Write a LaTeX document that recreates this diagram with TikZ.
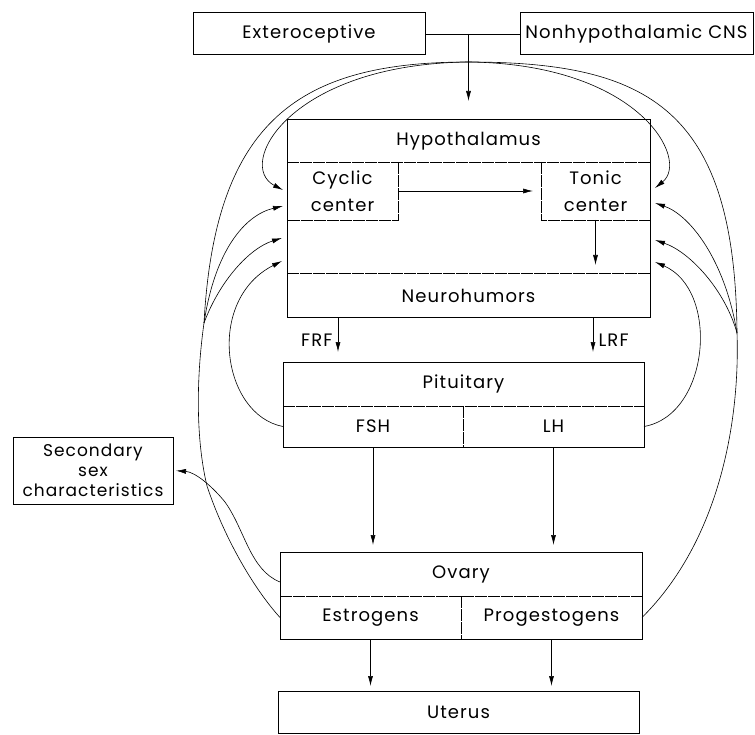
\documentclass[tikz,border=0pt]{standalone}
\usepackage{fontspec}
\setmainfont[LetterSpace=6]{Poppins}
\usetikzlibrary{shapes,arrows.meta,positioning,calc}

\begin{document}
\begin{tikzpicture}[x=1pt, y=-1pt, >={Latex[length=10pt,width=5pt]}, font=\fontsize{18}{20}\selectfont]
    \tikzstyle{frame} = [draw, line width=1pt, rectangle, inner sep=0pt, outer sep=0pt, align=center]
    \tikzstyle{part} = [rectangle, inner sep=0pt, outer sep=0pt, align=center]
    \tikzstyle{divider} = [line width=0.5pt, dash pattern=on 12pt off 1pt]
    \tikzstyle{feed} = [->, line width=0.6pt]
    \tikzstyle{link} = [line width=0.6pt]

    \useasboundingbox (0,0) rectangle (755,735);

    % Nodes
    \node [frame, minimum width=232pt, minimum height=42pt] (extero) at (309,34) {Exteroceptive};
    \node [frame, minimum width=233pt, minimum height=42pt] (cns) at (636.5,34) {Nonhypothalamic CNS};

    \node [frame, minimum width=363pt, minimum height=198pt] (hypo) at (468.5,219) {};
    \node [part, minimum width=363pt, minimum height=42pt, below right=0pt and 0pt of hypo.north west] (hyptitle) {Hypothalamus};
    \node [part, minimum width=111pt, minimum height=58pt, below right=0pt and 0pt of hyptitle.south west, font=\fontsize{18}{27}\selectfont] (cyclic) {Cyclic\\center};
    \node [part, minimum width=109pt, minimum height=58pt, below left=0pt and 0pt of hyptitle.south east, font=\fontsize{18}{27}\selectfont] (tonic) {Tonic\\center};
    \node [part, minimum width=363pt, minimum height=45pt, above right=0pt and 0pt of hypo.south west] (neuro) {Neurohumors};

    \node [frame, minimum width=361pt, minimum height=85pt, below=44pt of hypo, xshift=-5pt] (pit) {};
    \node [part, minimum width=361pt, minimum height=44pt, below right=0pt and 0pt of pit.north west] (pittitle) {Pituitary};
    \node [part, minimum width=180pt, minimum height=41pt, above right=0pt and 0pt of pit.south west] (fsh) {FSH};
    \node [part, minimum width=181pt, minimum height=41pt, above left=0pt and 0pt of pit.south east] (lh) {LH};

    \node [frame, minimum width=362pt, minimum height=87pt, below=105pt of pit, xshift=-2.5pt] (ovary) {};
    \node [part, minimum width=362pt, minimum height=44pt, below right=0pt and 0pt of ovary.north west] (ovtitle) {Ovary};
    \node [part, minimum width=181pt, minimum height=43pt, above right=0pt and 0pt of ovary.south west] (estro) {Estrogens};
    \node [part, minimum width=181pt, minimum height=43pt, above left=0pt and 0pt of ovary.south east] (proge) {Progestogens};

    \node [frame, minimum width=361pt, minimum height=42pt, below=52pt of ovary, xshift=-2.5pt] (uterus) {Uterus};
    \node [frame, minimum width=160pt, minimum height=67pt, font=\fontsize{17}{20}\selectfont] (second) at (93,470.5) {Secondary\\sex\\characteristics};

    % Dividers
    \draw [divider] (hyptitle.south west) -- (hyptitle.south east);
    \draw [divider] (cyclic.north east) -- (cyclic.south east) -- (cyclic.south west);
    \draw [divider] (tonic.north west) -- (tonic.south west) -- (tonic.south east);
    \draw [divider] (neuro.north west) -- (neuro.north east);
    \draw [divider] (pittitle.south west) -- (pittitle.south east);
    \draw [divider] (fsh.north east) -- (fsh.south east);
    \draw [divider] (ovtitle.south west) -- (ovtitle.south east);
    \draw [divider] (estro.north east) -- (estro.south east);

    % Points
    \coordinate (jn) at (hypo.north |- extero.east);
    \coordinate (split) at ([yshift=-28pt]jn);
    \coordinate (frf) at ([xshift=51pt]hypo.south west);
    \coordinate (lrf) at ([xshift=306pt]hypo.south west);
    \coordinate (hl1) at (283,190);
    \coordinate (hl2) at (283,206);
    \coordinate (hl3) at (282,238);
    \coordinate (hl4) at (282,261);
    \coordinate (hr1) at (655,188);
    \coordinate (hr2) at (655,203);
    \coordinate (hr3) at (655,240);
    \coordinate (hr4) at (655,262);
    \coordinate (lb) at (204,323);
    \coordinate (rb) at (737,333);
    \coordinate (lx) at (207,486);

    % Paths
    \draw [link] (extero) -- (cns);
    \draw [->, link, shorten >=19pt] (jn) -- (hypo.north);
    \draw [->, link, shorten >=8pt] (cyclic.east) -- (tonic.west);
    \draw [->, link, shorten >=8pt] (tonic.south) -- (tonic.south |- neuro.north);
    \draw [->, link, shorten >=10pt] (frf) -- node [left=2pt] {FRF} (frf |- pit.north);
    \draw [->, link, shorten >=10pt] (lrf) -- node [right=2pt] {LRF} (lrf |- pit.north);
    \draw [->, link, shorten >=7pt] (fsh.south) -- (fsh.south |- ovary.north);
    \draw [->, link, shorten >=7pt] (lh.south) -- (lh.south |- ovary.north);
    \draw [->, link, shorten >=5pt] (estro.south) -- (estro.south |- uterus.north);
    \draw [->, link, shorten >=5pt] (proge.south) -- (proge.south |- uterus.north);

    % left feedback
    \draw [feed] (split) .. controls (290,64) and (235,165) .. (hl1);
    \draw [link] (split) .. controls (300,62) and (215,120) .. (lb);
    \draw [feed] (lb) .. controls (215,250) and (245,215) .. (hl2);
    \draw [feed] (lb) .. controls (220,280) and (250,248) .. (hl3);
    \draw [feed] (fsh.west) .. controls (222,415) and (205,300) .. (hl4);
    \draw [link] (estro.west) .. controls (255,590) and (225,540) .. (lx) .. controls (196,440) and (196,380) .. (lb);
    \draw [feed, shorten >=3pt] ([yshift=14pt]ovtitle.south west) .. controls (250,570) and (245,530) .. (225,502) .. controls (212,486) and (195,472) .. (second.east);

    % right feedback
    \draw [feed] (split) .. controls (640,64) and (690,160) .. (hr1);
    \draw [link] (split) .. controls (650,62) and (735,110) .. (rb);
    \draw [feed] (rb) .. controls (725,260) and (690,215) .. (hr2);
    \draw [feed] (rb) .. controls (725,290) and (690,252) .. (hr3);
    \draw [feed] (lh.east) .. controls (710,415) and (720,290) .. (hr4);
    \draw [link] (proge.east) .. controls (720,540) and (740,420) .. (rb);
\end{tikzpicture}
\end{document}
